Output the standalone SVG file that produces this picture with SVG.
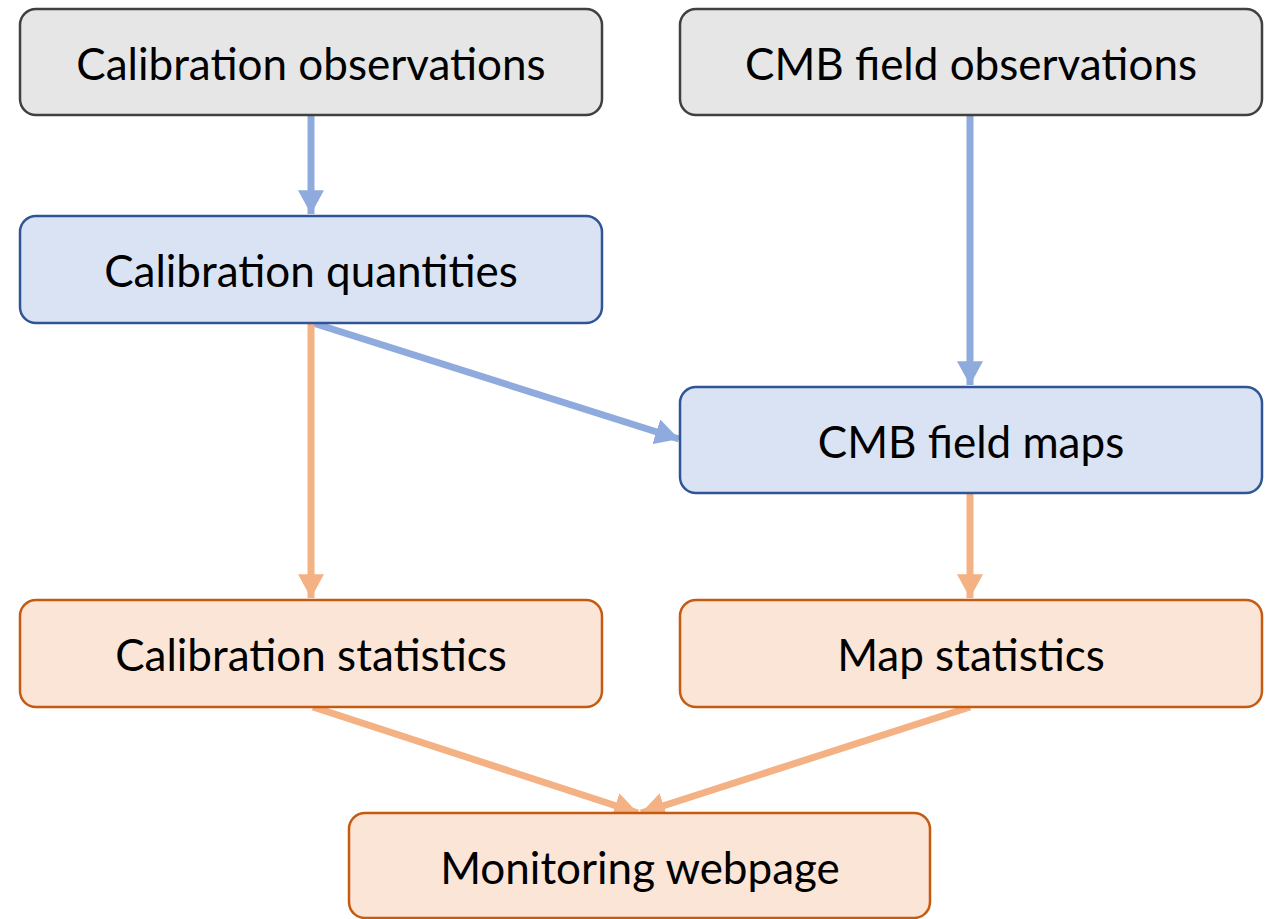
<svg xmlns="http://www.w3.org/2000/svg" width="1271" height="919" viewBox="0 0 1271 919">
<style>
.box{stroke-width:2.5}
.gray{fill:#e6e6e6;stroke:#404040}
.blue{fill:#dae3f3;stroke:#2f5597}
.orange{fill:#fbe5d6;stroke:#c55a11}
text{font-family:Lato,"Open Sans","Liberation Sans",sans-serif;font-size:44px;fill:#000;text-anchor:middle;dominant-baseline:central}
.cb{stroke:#8faadc;stroke-width:7;fill:none}
.co{stroke:#f4b183;stroke-width:7;fill:none}
</style>
<defs>
<marker id="ab" markerUnits="userSpaceOnUse" markerWidth="26" markerHeight="26" refX="22" refY="12" orient="auto" viewBox="0 0 24 24">
<path d="M0,0 L22,12 L0,24 Z" fill="#8faadc"/>
</marker>
<marker id="ao" markerUnits="userSpaceOnUse" markerWidth="26" markerHeight="26" refX="22" refY="12" orient="auto" viewBox="0 0 24 24">
<path d="M0,0 L22,12 L0,24 Z" fill="#f4b183"/>
</marker>
</defs>
<rect width="1271" height="919" fill="#fff"/>
<g id="connectors">
<line class="cb" x1="311" y1="116" x2="311" y2="214" marker-end="url(#ab)"/>
<line class="cb" x1="970" y1="116" x2="970" y2="385" marker-end="url(#ab)"/>
<line class="cb" x1="313" y1="323" x2="679" y2="439" marker-end="url(#ab)"/>
<line class="co" x1="311" y1="324" x2="311" y2="598" marker-end="url(#ao)"/>
<line class="co" x1="970" y1="494" x2="970" y2="598" marker-end="url(#ao)"/>
<line class="co" x1="313" y1="707" x2="638" y2="813" marker-end="url(#ao)"/>
<line class="co" x1="970" y1="707" x2="641" y2="813" marker-end="url(#ao)"/>
</g>
<g id="n1"><rect class="box gray" x="20" y="9" width="582" height="106" rx="16"/><text x="311" y="63">Calibration observations</text></g>
<g id="n2"><rect class="box gray" x="680" y="9" width="582" height="106" rx="16"/><text x="971" y="63">CMB field observations</text></g>
<g id="n3"><rect class="box blue" x="20" y="216" width="582" height="107" rx="16"/><text x="311" y="270">Calibration quantities</text></g>
<g id="n4"><rect class="box blue" x="680" y="387" width="582" height="106" rx="16"/><text x="971" y="441">CMB field maps</text></g>
<g id="n5"><rect class="box orange" x="20" y="600" width="582" height="107" rx="16"/><text x="311" y="654">Calibration statistics</text></g>
<g id="n6"><rect class="box orange" x="680" y="600" width="582" height="107" rx="16"/><text x="971" y="654">Map statistics</text></g>
<g id="n7"><rect class="box orange" x="349" y="813" width="581" height="105" rx="16"/><text x="640" y="867">Monitoring webpage</text></g>
</svg>
